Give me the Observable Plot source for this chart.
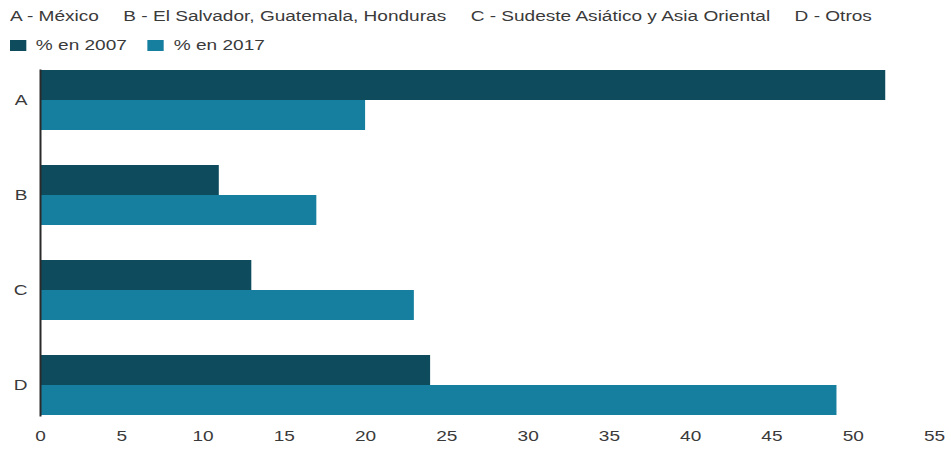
<!DOCTYPE html>
<html>
<head>
<meta charset="utf-8">
<script src="https://cdn.jsdelivr.net/npm/d3@7"></script>
<script src="https://cdn.jsdelivr.net/npm/@observablehq/plot@0.6"></script>
<style>
  html, body { margin: 0; padding: 0; background: #fff; }
  body { font-family: "Liberation Sans", Arial, sans-serif; color: #3a3a3a; width: 951px; height: 449px; overflow: hidden; }
  #legend { position: relative; height: 60px; font-size: 14px; }
  .row { position: absolute; left: 10px; display: flex; align-items: center; white-space: nowrap;
         transform: scaleX(1.36); transform-origin: 0 50%; line-height: 16px; }
  .row1 { top: 8px; }
  .row2 { top: 37px; }
  .item { margin-right: 18px; }
  .sw { display: inline-block; width: 11.5px; height: 11px; margin-right: 7.5px; }
  .row2 .item { display: flex; align-items: center; margin-right: 15.5px; }
  #chart svg { display: block; }
</style>
</head>
<body>
<div id="legend"></div>
<div id="chart"></div>
<script>
// ---- data ----
const categories = ["A", "B", "C", "D"];
const categoryNames = ["México", "El Salvador, Guatemala, Honduras", "Sudeste Asiático y Asia Oriental", "Otros"];
const seriesNames = ["% en 2007", "% en 2017"];
const values2007 = [52, 11, 13, 24];
const values2017 = [20, 17, 23, 49];
const xTicks = [0, 5, 10, 15, 20, 25, 30, 35, 40, 45, 50, 55];
const seriesColors = ["#0e4b5c", "#167f9f"];

const data = categories.flatMap((c, i) => [
  {cat: c, series: seriesNames[0], value: values2007[i]},
  {cat: c, series: seriesNames[1], value: values2017[i]}
]);

// ---- legend ----
const legend = document.getElementById("legend");
const row1 = document.createElement("div");
row1.className = "row row1";
categories.forEach((c, i) => {
  const s = document.createElement("span");
  s.className = "item";
  s.textContent = `${c} - ${categoryNames[i]}`;
  row1.appendChild(s);
});
legend.appendChild(row1);
const row2 = document.createElement("div");
row2.className = "row row2";
seriesNames.forEach((n, i) => {
  const s = document.createElement("span");
  s.className = "item";
  const sw = document.createElement("span");
  sw.className = "sw";
  sw.style.background = seriesColors[i];
  s.appendChild(sw);
  s.appendChild(document.createTextNode(n));
  row2.appendChild(s);
});
legend.appendChild(row2);

// ---- chart ----
const chart = Plot.plot({
  width: 951,
  height: 389,
  marginTop: 8,
  marginBottom: 31,
  marginLeft: 40,
  marginRight: 17,
  style: {fontSize: "14px", fontFamily: "'Liberation Sans', Arial, sans-serif", color: "#3a3a3a", background: "white", overflow: "visible"},
  x: {domain: [0, 55], ticks: xTicks, tickSize: 0, tickPadding: 16, label: null},
  y: {domain: seriesNames, axis: null, padding: 0},
  fy: {domain: categories, paddingInner: 0.368, paddingOuter: 0.026, tickSize: 0, tickPadding: 13, label: null, axis: "left"},
  color: {domain: seriesNames, range: seriesColors},
  marks: [
    Plot.barX(data, {x: "value", y: "series", fy: "cat", fill: "series"}),
    Plot.frame({anchor: "left", facet: "super", stroke: "#2a2a2a", strokeWidth: 2})
  ]
});
document.getElementById("chart").appendChild(chart);

// stretch text horizontally like the reference (about its anchor)
chart.querySelectorAll("text").forEach(t => {
  const x = t.getAttribute("x");
  let tr = t.getAttribute("transform") || "";
  if (x !== null && +x !== 0) {
    t.removeAttribute("x");
    tr += ` translate(${x},0)`;
  }
  t.setAttribute("transform", tr + " scale(1.36,1)");
});
</script>
</body>
</html>
